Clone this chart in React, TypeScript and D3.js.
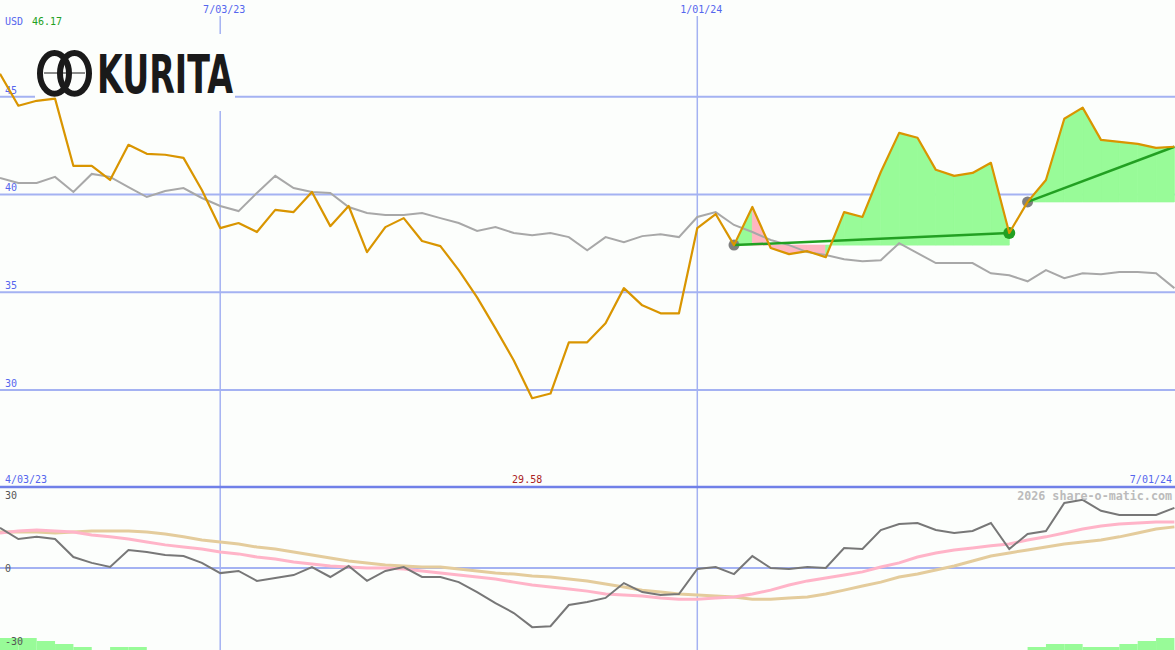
import { area, line, scaleLinear } from 'd3';

// weekly closes, index 0 = first week shown
const price = [
  46.17, 44.54, 44.79, 44.9, 41.46, 41.46, 40.74, 42.54, 42.08, 42.03,
  41.87, 40.23, 38.28, 38.54, 38.08, 39.21, 39.1, 40.13, 38.38, 39.41,
  37.05, 38.33, 38.79, 37.62, 37.36, 36.13, 34.74, 33.15, 31.51, 29.58,
  29.82, 32.44, 32.44, 33.41, 35.21, 34.33, 33.92, 33.92, 38.28, 39.0,
  37.41, 39.36, 37.26, 36.95, 37.1, 36.79, 39.1, 38.85, 41.15, 43.15,
  42.9, 41.26, 40.95, 41.1, 41.62, 38.03, 39.62, 40.74, 43.87, 44.44,
  42.79, 42.69, 42.59, 42.38, 42.44,
];

// market comparison line (grey)
const relative = [
  40.85, 40.59, 40.59, 40.9, 40.13, 41.05, 40.9, 40.38, 39.87, 40.18,
  40.33, 39.82, 39.41, 39.15, 40.08, 40.95, 40.33, 40.13, 40.08, 39.36,
  39.05, 38.95, 38.95, 39.05, 38.79, 38.54, 38.13, 38.33, 38.03, 37.92,
  38.03, 37.82, 37.15, 37.82, 37.56, 37.87, 37.97, 37.82, 38.85, 39.1,
  38.44, 38.08, 37.67, 37.41, 37.05, 36.9, 36.69, 36.59, 36.64, 37.51,
  37.0, 36.49, 36.49, 36.49, 35.97, 35.87, 35.56, 36.13, 35.72, 35.97,
  35.92, 36.03, 36.03, 35.97, 35.21,
];

const momentum = [
  16.5, 11.9, 12.8, 11.9, 4.5, 2.1, 0.4, 7.4, 6.6, 5.3,
  4.9, 2.1, -2.1, -1.2, -5.3, -4.1, -2.9, 0.4, -3.7, 0.8,
  -5.3, -1.2, 0.4, -3.7, -3.7, -5.8, -9.9, -14.4, -18.5, -24.3,
  -23.9, -15.2, -14.0, -12.3, -6.2, -9.9, -11.1, -10.7, -0.4, 0.4,
  -2.5, 4.9, 0, -0.4, 0.4, 0, 8.2, 7.8, 15.6, 18.1,
  18.5, 15.6, 14.4, 15.2, 18.5, 7.8, 14.0, 15.2, 26.7, 28.0,
  23.5, 21.8, 21.8, 21.8, 24.7,
];

const fastAvg = [
  14.4, 15.2, 15.6, 15.2, 14.8, 13.6, 12.8, 11.9, 10.7, 9.5,
  8.6, 7.8, 6.6, 5.8, 4.5, 3.7, 2.5, 1.6, 0.8, 0.4,
  0, 0, -0.4, -1.2, -2.1, -2.9, -3.7, -4.5, -5.8, -7.0,
  -7.8, -8.6, -9.5, -10.7, -11.1, -11.5, -12.3, -12.8, -12.8, -12.3,
  -11.9, -10.7, -9.1, -7.0, -5.3, -4.1, -2.9, -1.6, 0.4, 2.1,
  4.5, 6.2, 7.4, 8.2, 9.1, 9.9, 11.5, 12.8, 14.4, 16.0,
  17.3, 18.1, 18.5, 18.9, 18.9,
];

const slowAvg = [
  14.8, 14.8, 14.8, 14.4, 14.8, 15.2, 15.2, 15.2, 14.8, 14.0,
  12.8, 11.5, 10.7, 9.9, 8.6, 7.8, 6.6, 5.3, 4.1, 2.9,
  2.1, 1.2, 0.8, 0.4, 0.4, -0.4, -1.2, -2.1, -2.5, -3.3,
  -3.7, -4.5, -5.3, -6.6, -7.8, -9.1, -9.9, -10.7, -11.1, -11.5,
  -11.9, -12.8, -12.8, -12.3, -11.9, -10.7, -9.1, -7.4, -5.8, -3.7,
  -2.5, -0.8, 0.8, 2.9, 4.9, 6.2, 7.4, 8.6, 9.9, 10.7,
  11.5, 12.8, 14.4, 16.0, 16.9,
];

// little green strength bars along the bottom edge
const signalBars = [
  4, 4, 3, 2, 1, 0, 1, 1, 0, 0, 0, 0, 0, 0, 0, 0, 0, 0, 0, 0,
  0, 0, 0, 0, 0, 0, 0, 0, 0, 0, 0, 0, 0, 0, 0, 0, 0, 0, 0, 0,
  0, 0, 0, 0, 0, 0, 0, 0, 0, 0, 0, 0, 0, 0, 0, 0, 1, 2, 2, 1,
  1, 2, 3, 4, 0,
];

const priceTicks = [45, 40, 35, 30];
const oscTicks = [30, 0, -30];
const gridWeeks = [12, 38];
const gridLabels = ['7/03/23', '1/01/24'];
const firstDate = '4/03/23';
const lastDate = '7/01/24';
const trendStart = [40, 56];
const trendEnd = [55, 64];

const width = 1175;
const height = 650;
const panelSplit = 487;
const font = '"DejaVu Sans Mono", monospace';
const gridColor = '#a4b2f2';
const bg = '#fcfefc';

export default function App() {
  const idx = price.map((_, i) => i);
  const lowIndex = price.indexOf(Math.min(...price));
  const x = scaleLinear().domain([0, price.length - 1]).range([0, 1174.4]);
  const y = scaleLinear().domain([30, 45]).range([390, 96.7]);
  const yOsc = scaleLinear().domain([-30, 30]).range([641, 495]);
  const yBar = scaleLinear().domain([0, 4]).range([650, 638]);

  const priceLine = line<number>().x(i => x(i)).y(i => y(price[i]))(idx);
  const relLine = line<number>().x(i => x(i)).y(i => y(relative[i]))(idx);
  const momLine = line<number>().x(i => x(i)).y(i => yOsc(momentum[i]))(idx);
  const fastLine = line<number>().x(i => x(i)).y(i => yOsc(fastAvg[i]))(idx);
  const slowLine = line<number>().x(i => x(i)).y(i => yOsc(slowAvg[i]))(idx);

  const fills: { d: string; color: string }[] = [];
  trendStart.forEach((start, t) => {
    const base = price[start];
    for (let i = start; i < trendEnd[t]; i++) {
      const d = area<number>().x(k => x(k)).y0(y(base)).y1(k => y(price[k]))([i, i + 1]);
      if (d) fills.push({ d, color: price[i + 1] >= base ? '#98fb98' : '#ffb6c1' });
    }
  });

  return (
    <svg width={width} height={height} style={{ position: 'absolute', left: 0, top: 0 }} fontFamily={font}>
      <rect width={width} height={height} fill={bg} />

      {priceTicks.map(tick => (
        <g key={tick}>
          <line x1={0} x2={width} y1={y(tick)} y2={y(tick)} stroke={gridColor} strokeWidth={2} />
          <text x={5} y={y(tick) - 3} fontSize={10} fill="#5566ee">{tick}</text>
        </g>
      ))}
      {gridWeeks.map((w, k) => (
        <g key={w}>
          <line x1={x(w)} x2={x(w)} y1={16} y2={height} stroke={gridColor} strokeWidth={1.5} />
          <text x={x(w) + 4} y={13} fontSize={10} textAnchor="middle" fill="#5566ee">{gridLabels[k]}</text>
        </g>
      ))}

      <text x={5} y={25} fontSize={10} fill="#5566ee">USD</text>
      <text x={32} y={25} fontSize={10} fill="#22a022">{price[0].toFixed(2)}</text>

      {/* logo */}
      <rect x={35} y={34} width={200} height={77} fill={bg} />
      <g stroke="#1a1a1a" fill="none">
        <ellipse cx={54.5} cy={73.4} rx={14.5} ry={20.3} strokeWidth={6} />
        <ellipse cx={74.5} cy={73.4} rx={14.5} ry={20.3} strokeWidth={6} />
        <line x1={44} x2={85} y1={73} y2={73} strokeWidth={1} />
      </g>
      <text x={97} y={93} fontSize={54} fontWeight="bold" fontFamily='"DejaVu Sans", sans-serif' fill="#1a1a1a" textLength={136} lengthAdjust="spacingAndGlyphs">KURITA</text>

      {fills.map((f, k) => <path key={k} d={f.d} fill={f.color} stroke={f.color} strokeWidth={0.8} />)}

      {relLine && <path d={relLine} fill="none" stroke="#a8a8a8" strokeWidth={2} />}

      {trendStart.map((start, t) => (
        <g key={start}>
          <circle cx={x(start)} cy={y(price[start])} r={5.5} fill="#808080" />
          <line x1={x(start)} y1={y(price[start])} x2={x(trendEnd[t])} y2={y(price[trendEnd[t]])} stroke="#22a022" strokeWidth={2.5} />
        </g>
      ))}
      <circle cx={x(trendEnd[0])} cy={y(price[trendEnd[0]])} r={6} fill="#22a022" />

      {priceLine && <path d={priceLine} fill="none" stroke="#d99500" strokeWidth={2.2} strokeLinejoin="round" />}

      {/* lower panel */}
      <rect x={0} y={panelSplit} width={width} height={height - panelSplit} fill={bg} />
      {gridWeeks.map(w => (
        <line key={w} x1={x(w)} x2={x(w)} y1={panelSplit} y2={height} stroke={gridColor} strokeWidth={1.5} />
      ))}
      <line x1={0} x2={width} y1={yOsc(0)} y2={yOsc(0)} stroke={gridColor} strokeWidth={2} />
      <line x1={0} x2={width} y1={panelSplit} y2={panelSplit} stroke="#7080e8" strokeWidth={2.5} />
      <text x={5} y={483} fontSize={10} fill="#5566ee">{firstDate}</text>
      <text x={x(lowIndex) - 5} y={483} fontSize={10} textAnchor="middle" fill="#aa2222">{price[lowIndex].toFixed(2)}</text>
      <text x={1172} y={483} fontSize={10} textAnchor="end" fill="#5566ee">{lastDate}</text>

      {signalBars.map((v, i) => v > 0 && (
        <rect key={i} x={x(i)} y={yBar(v)} width={x(i + 1) - x(i)} height={height - yBar(v)} fill="#98fb98" />
      ))}

      {slowLine && <path d={slowLine} fill="none" stroke="#e4cc9c" strokeWidth={3} />}
      {fastLine && <path d={fastLine} fill="none" stroke="#ffb4c8" strokeWidth={3} />}
      {momLine && <path d={momLine} fill="none" stroke="#777777" strokeWidth={2} />}

      {oscTicks.map(tick => (
        <text key={tick} x={5} y={yOsc(tick) + 4} fontSize={10} fill="#555555">{tick}</text>
      ))}
      <text x={1172} y={500} fontSize={11.7} fontWeight="bold" textAnchor="end" fill="#bbbbbb">2026 share-o-matic.com</text>
    </svg>
  );
}
